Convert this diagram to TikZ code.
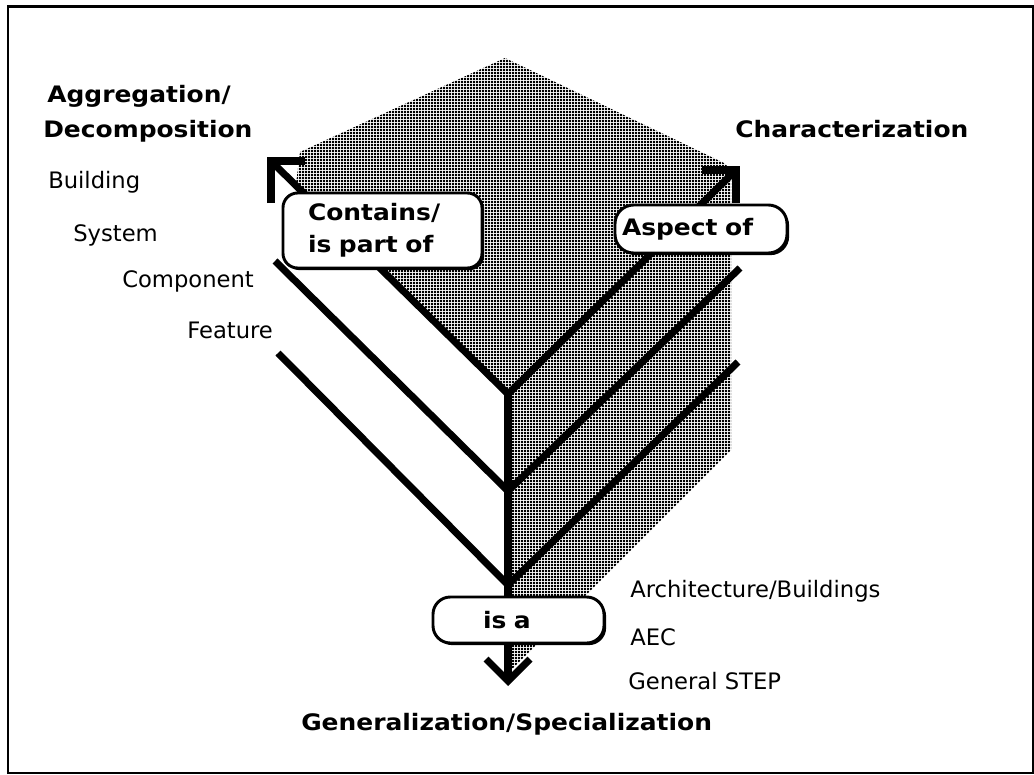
\documentclass[tikz,border=0pt]{standalone}
\usepackage{fontspec}
\usetikzlibrary{patterns.meta,shadows}
\newfontfamily\hdfont[FakeStretch=1.1]{DejaVu Sans Bold}
\newfontfamily\lbfont{DejaVu Sans}

% halftone dot screen for the shaded faces
\tikzdeclarepattern{
  name=macdots,
  type=uncolored,
  bottom left={(0pt,0pt)},
  top right={(2.5pt,2.5pt)},
  tile size={(2.5pt,2.5pt)},
  code={\fill (0pt,0pt) rectangle (1.8pt,1.8pt);}
}

\begin{document}
\begin{tikzpicture}[x=0.75pt,y=-0.75pt,
  bar/.style={line width=5.3pt, line join=miter},
  tag/.style={draw, line width=2.2pt, fill=white, rounded corners=11pt,
    font=\hdfont\fontsize{17}{24}\selectfont, align=left,
    drop shadow={shadow xshift=1.6pt, shadow yshift=-1.6pt, fill=black, opacity=1}},
  head/.style={font=\hdfont\fontsize{17}{21}\selectfont, inner sep=0pt, anchor=base west},
  lbl/.style={font=\lbfont\fontsize{17}{21}\selectfont, inner sep=0pt, anchor=base west}]

\useasboundingbox (0,0) rectangle (1034,774);
\fill[white] (0,0) rectangle (1034,774);
% frame
\draw[line width=1.6pt] (8,774) -- (8,6.5) -- (1034,6.5);
\draw[line width=1.2pt] (1033.2,6.5) -- (1033.2,773.2) -- (8,773.2);

% key points of the three-axis figure
\coordinate (cTip) at (271,161);
\coordinate (aTip) at (736,170);
\coordinate (v1) at (508,394);
\coordinate (v2) at (508,491);
\coordinate (v3) at (508,585);
\coordinate (compEnd) at (275,261);
\coordinate (featEnd) at (278,353);
\coordinate (r2) at (740,268);
\coordinate (r3) at (738,362);
\coordinate (dTip) at (508,681);

% shaded top and right faces
\fill[pattern=macdots, pattern color=black]
  (505,58) -- (724,163) -- (731,170) -- (731,450) -- (508,673) -- (v1)
  -- (296,184) -- (300,152) -- cycle;

% axes and level lines
\draw[bar] (cTip) -- (v1) -- (aTip);
\draw[bar] (compEnd) -- (v2) -- (r2);
\draw[bar] (featEnd) -- (v3) -- (r3);
\draw[bar] (v1) -- (dTip);

% open arrow heads
\draw[bar] (cTip) ++(0,42) -- (cTip) -- ++(34,0);
\draw[bar] (aTip) ++(-34,0) -- (aTip) -- ++(0,33);
\draw[bar] (dTip) ++(-22,-22) -- (dTip) -- ++(22,-22);

% relation labels
\node[tag, minimum width=199*0.75pt, minimum height=75*0.75pt,
  inner xsep=25*0.75pt, text width=149*0.75pt] (contains) at (382.5,230.5)
  {Contains/\\is part of};
\node[tag, minimum width=172*0.75pt, minimum height=48*0.75pt,
  inner xsep=7*0.75pt, text width=158*0.75pt, rounded corners=14pt] (aspect) at (701,229)
  {Aspect of};
\node[tag, minimum width=171*0.75pt, minimum height=46*0.75pt,
  inner xsep=50*0.75pt, text width=71*0.75pt, rounded corners=13pt] (isa) at (518.5,620)
  {is a};

% axis titles
\node[head] (agg) at (47,102) {Aggregation/};
\node[head] (dec) at (43,137) {Decomposition};
\node[head] (chr) at (735,137) {Characterization};
\node[head] (gen) at (301,730) {Generalization/Specialization};

% level names
\node[lbl] (bld) at (48,188) {Building};
\node[lbl] (sys) at (73,241) {System};
\node[lbl] (cmp) at (122,287) {Component};
\node[lbl] (fea) at (187,338) {Feature};
\node[lbl] (arc) at (630,597) {Architecture/Buildings};
\node[lbl] (aec) at (630,645) {AEC};
\node[lbl] (gst) at (628,689) {General STEP};
\end{tikzpicture}
\end{document}
